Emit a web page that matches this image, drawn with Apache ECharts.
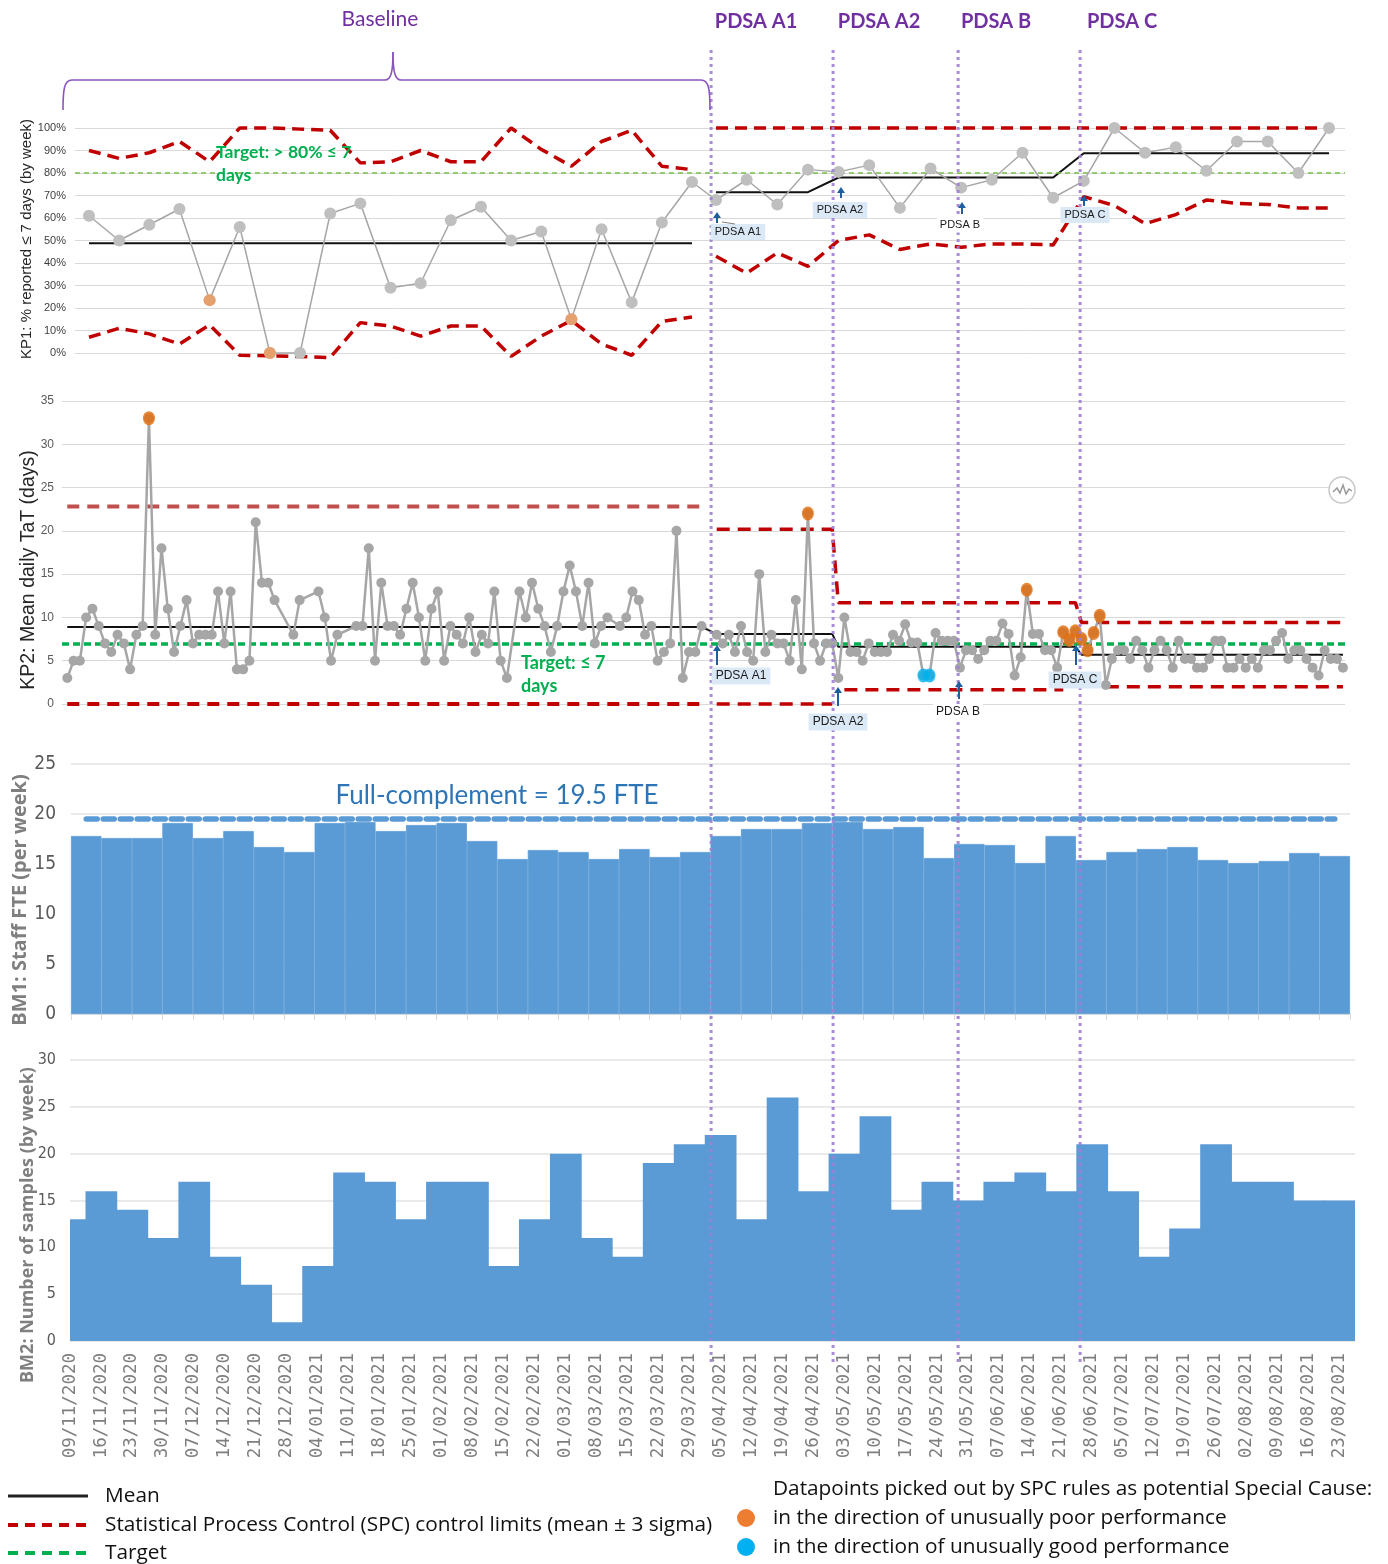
<!DOCTYPE html>
<html><head><meta charset="utf-8">
<script src="https://cdn.jsdelivr.net/npm/echarts@6/dist/echarts.min.js"></script>
<style>html,body{margin:0;padding:0;background:#fff}#c{width:1388px;height:1564px}</style>
</head><body><div id="c"></div>
<script>
// ---------------- DATA ----------------
const weekLabels = ['09/11/2020','16/11/2020','23/11/2020','30/11/2020','07/12/2020','14/12/2020','21/12/2020','28/12/2020','04/01/2021','11/01/2021','18/01/2021','25/01/2021','01/02/2021','08/02/2021','15/02/2021','22/02/2021','01/03/2021','08/03/2021','15/03/2021','22/03/2021','29/03/2021','05/04/2021','12/04/2021','19/04/2021','26/04/2021','03/05/2021','10/05/2021','17/05/2021','24/05/2021','31/05/2021','07/06/2021','14/06/2021','21/06/2021','28/06/2021','05/07/2021','12/07/2021','19/07/2021','26/07/2021','02/08/2021','09/08/2021','16/08/2021','23/08/2021'];

// KP1: % reported <= 7 days, by week (index 0..20 baseline, 21..41 after PDSA A1)
const kp1Values = [61,50,57,64,23.5,56,0,0,62,66.5,29,31,59,65,50,54,15,55,22.5,58,76,68,77,66,81.5,80.5,83.5,64.5,82,73.5,77,89,69,76.5,100,89,91.5,81,94,94,80,100];
const kp1Ucl = [90,86.5,89,94,85,100,100,99.5,99,84.5,85,90,85,85,100,90.5,83,94,99,83,81.5,100,100,100,100,100,100,100,100,100,100,100,100,100,100,100,100,100,100,100,100,100];
const kp1Lcl = [7,11,8.5,4,12.5,-1,-1.2,-1.6,-2,13.5,12,7.5,12,12,-1.5,7.5,14.5,4,-1,14,16,43,35.5,44.5,38.5,50,52.5,46,48.5,47,48.5,48.5,48,69.5,65.5,57.5,61.5,68,66.5,66,64.5,64.5];
const kp1BaselineEnd = 20;
const kp1PhaseStart = [0,21,25,33];
const kp1PhaseEnd = [20,24,32,41];
const kp1PhaseMean = [48.8,71.5,78,88.8];
const kp1Target = 80;
const kp1PoorIdx = [4,6,16];

// KP2: mean daily TaT (days), working days. Baseline period (null = no data)
const kp2Baseline = [3,5,5,10,11,9,7,6,8,7,4,8,9,33,8,18,11,6,9,12,7,8,8,8,13,7,13,4,4,5,21,14,14,12,null,null,8,12,null,null,13,10,5,8,null,null,9,9,18,5,14,9,9,8,11,14,10,5,11,13,5,9,8,7,10,6,8,7,13,5,3,null,13,10,14,11,9,6,9,13,16,13,9,14,7,9,10,null,9,10,13,12,8,9,5,6,7,20,3,6,6,9];
// post-intervention period (PDSA A1 onwards)
const kp2Post = [8,7,8,6,9,6,5,15,6,8,7,7,5,12,4,22,7,5,7,7,3,10,6,6,5,7,6,6,6,8,7.3,9.2,7.1,7.1,3.3,3.3,8.2,7.3,7.3,7.3,4.2,6.2,6.2,5.2,6.2,7.3,7.3,9.3,8.1,3.3,5.4,13.2,8.1,8.1,6.2,6.2,4.2,8.3,7.4,8.4,7.5,6.2,8.2,10.2,2.2,5.2,6.2,6.2,5.2,7.3,6.2,4.2,6.2,7.3,6.2,4.2,7.3,5.2,5.2,4.2,4.2,5.2,7.3,7.3,4.2,4.2,5.2,4.2,5.2,4.2,6.2,6.2,7.3,8.2,5.2,6.2,6.2,5.2,4.2,3.3,6.2,5.2,5.2,4.2];
const kp2BaseMean = 8.9, kp2BaseUcl = 22.8, kp2BaseLcl = 0;
const kp2PostPhaseStart = [0,20,60];
const kp2PostPhaseEnd = [19,59,103];
const kp2PostMean = [8.1,6.6,5.7];
const kp2PostUcl = [20.2,11.7,9.4];
const kp2PostLclStart = [0,21,64];
const kp2PostLclEnd = [19,57,103];
const kp2PostLcl = [0,1.66,2.0];
const kp2Target = 7;
const kp2BasePoorIdx = [13];
const kp2PostPoorIdx = [15,51,57,58,59,60,61,62,63];
const kp2PostGoodIdx = [34,35];

// BM1: staff FTE per week
const bm1Values = [17.8,17.6,17.6,19.1,17.6,18.3,16.7,16.2,19.1,19.2,18.3,18.9,19.1,17.3,15.5,16.4,16.2,15.5,16.5,15.7,16.2,17.8,18.5,18.5,19.1,19.2,18.5,18.7,15.6,17.0,16.9,15.1,17.8,15.4,16.2,16.5,16.7,15.4,15.1,15.3,16.1,15.8];
const bm1FullComplement = 19.5;

// BM2: number of samples per week
const bm2Values = [13,16,14,11,17,9,6,2,8,18,17,13,17,17,8,13,20,11,9,19,21,22,13,26,16,20,24,14,17,15,17,18,16,21,16,9,12,21,17,17,15,15];

// PDSA start positions on the KP1 (post) week axis: A1, A2, B, C
const phaseLinePos = [20.84,24.82,28.9,32.88];

// ---------------- LAYOUT ----------------
const G = [
  {left:75, top:128, width:1270, height:225},
  {left:62, top:401, width:1283, height:303},
  {left:71, top:764, width:1279, height:250},
  {left:70, top:1060, width:1285, height:281}
];
// the source is a composite of separately drawn baseline / post panels
const KP1_BASE_FIRST_PX = 89, KP1_BASE_STEP = 30.15;
const KP1_POST_FIRST_PX = 716, KP1_POST_STEP = 30.65;
const KP2_BASE_FIRST_PX = 67.3, KP2_BASE_STEP = 6.28;
const KP2_POST_FIRST_PX = 716.7, KP2_POST_STEP = 6.08;
function axisRange(grid, firstPx, step, firstIdx){
  const min = firstIdx - (firstPx - grid.left)/step;
  return {min, max: min + grid.width/step};
}
const kp1B = axisRange(G[0], KP1_BASE_FIRST_PX, KP1_BASE_STEP, 0);
const kp1P = axisRange(G[0], KP1_POST_FIRST_PX, KP1_POST_STEP, kp1BaselineEnd+1);
const kp2B = axisRange(G[1], KP2_BASE_FIRST_PX, KP2_BASE_STEP, 0);
const kp2P = axisRange(G[1], KP2_POST_FIRST_PX, KP2_POST_STEP, 0);
const BM2_MAX = 41.5;

const RED = '#c00000', ORANGE1 = '#f0985a', ORANGE2 = '#e46c0a', CYAN = '#00b0f0', BLUE = '#5b9bd5', PURPLE = '#7030a0';

function pts(arr, from, to){ const o=[]; for(let i=from;i<=to;i++){ if(arr[i]!=null) o.push([i,arr[i]]); } return o; }
function constPts(v, from, to){ const o=[]; for(let i=from;i<=to;i++) o.push([i,v]); return o; }
function phasePts(starts, ends, vals){ let o=[]; for(let p=0;p<starts.length;p++){ o=o.concat(constPts(vals[p], starts[p], ends[p])); } return o; }

function limLine(name, data, xi, yi, color, width, dash, z){
  return {name, type:'line', xAxisIndex:xi, yAxisIndex:yi, data, symbol:'none', clip:false, silent:true,
    lineStyle:{color, width, type:dash}, z:z||3};
}
const N1 = kp1Values.length - 1, BE = kp1BaselineEnd;
const series = [];
// ---- KP1 ----
series.push(limLine('kp1UclB', pts(kp1Ucl,0,BE),0,0,RED,3.5,[12,7]));
series.push(limLine('kp1UclP', pts(kp1Ucl,BE+1,N1),1,0,RED,3.5,[12,7]));
series.push(limLine('kp1LclB', pts(kp1Lcl,0,BE),0,0,RED,3.5,[12,7]));
series.push(limLine('kp1LclP', pts(kp1Lcl,BE+1,N1),1,0,RED,3.5,[12,7]));
series.push(limLine('kp1MeanB', constPts(kp1PhaseMean[0],kp1PhaseStart[0],kp1PhaseEnd[0]),0,0,'#111',2,'solid'));
series.push(limLine('kp1MeanP', phasePts(kp1PhaseStart.slice(1),kp1PhaseEnd.slice(1),kp1PhaseMean.slice(1)),1,0,'#111',2,'solid'));
const kp1PointStyle = {symbol:'circle', symbolSize:12, itemStyle:{color:'#bfbfbf'}, lineStyle:{color:'#a6a6a6', width:1.5}, z:5, clip:false};
series.push(Object.assign({name:'kp1B', type:'line', xAxisIndex:0, yAxisIndex:0, data:pts(kp1Values,0,BE),
  markLine:{silent:true, symbol:'none', label:{show:false}, lineStyle:{color:'#77c04a', width:1.5, type:[5,4]}, data:[{yAxis:kp1Target}]}}, kp1PointStyle));
series.push(Object.assign({name:'kp1P', type:'line', xAxisIndex:1, yAxisIndex:0, data:pts(kp1Values,BE+1,N1)}, kp1PointStyle));
series.push({name:'kp1PoorB', type:'scatter', xAxisIndex:0, yAxisIndex:0, data:kp1PoorIdx.filter(i=>i<=BE).map(i=>[i,kp1Values[i]]), symbolSize:12, itemStyle:{color:ORANGE1}, z:6, clip:false});
series.push({name:'kp1PoorP', type:'scatter', xAxisIndex:1, yAxisIndex:0, data:kp1PoorIdx.filter(i=>i>BE).map(i=>[i,kp1Values[i]]), symbolSize:12, itemStyle:{color:ORANGE1}, z:6, clip:false});

// ---- KP2 ----
const NB = kp2Baseline.length - 1;
series.push(limLine('kp2UclB', constPts(kp2BaseUcl,0,NB),2,1,'#c0504d',4,[12,8]));
series.push(limLine('kp2LclB', constPts(kp2BaseLcl,0,NB),2,1,RED,4,[12,8]));
series.push(limLine('kp2MeanB', constPts(kp2BaseMean,0,NB),2,1,'#111',2,'solid'));
series.push(limLine('kp2UclP', phasePts(kp2PostPhaseStart,kp2PostPhaseEnd,kp2PostUcl),3,1,RED,3.5,[13,8]));
series.push(limLine('kp2LclP', (function(){ const o=[]; for(let p=0;p<kp2PostLclStart.length;p++){ o.push(...constPts(kp2PostLcl[p],kp2PostLclStart[p],kp2PostLclEnd[p])); if(p<kp2PostLclStart.length-1) o.push([kp2PostLclEnd[p]+0.5,null]); } return o; })(),3,1,RED,3.5,[13,8]));
series.push(limLine('kp2MeanP', phasePts(kp2PostPhaseStart,kp2PostPhaseEnd,kp2PostMean),3,1,'#111',2,'solid'));
series.push({name:'kp2B', type:'line', xAxisIndex:2, yAxisIndex:1, data:pts(kp2Baseline,0,NB), symbol:'circle', symbolSize:10,
  itemStyle:{color:'#a6a6a6'}, lineStyle:{color:'#a6a6a6', width:2.5}, z:5,
  markLine:{silent:true, symbol:'none', label:{show:false}, lineStyle:{color:'#00b050', width:3.5, type:[7,4]}, data:[{yAxis:kp2Target}], z:4}});
series.push({name:'kp2P', type:'line', xAxisIndex:3, yAxisIndex:1, data:pts(kp2Post,0,kp2Post.length-1), symbol:'circle', symbolSize:10,
  itemStyle:{color:'#a6a6a6'}, lineStyle:{color:'#a6a6a6', width:2.5}, z:5});
series.push({name:'kp2PoorB', type:'scatter', xAxisIndex:2, yAxisIndex:1, data:kp2BasePoorIdx.map(i=>[i,kp2Baseline[i]]), symbolSize:[12,14], itemStyle:{color:ORANGE2}, z:6});
series.push({name:'kp2PoorP', type:'scatter', xAxisIndex:3, yAxisIndex:1, data:kp2PostPoorIdx.map(i=>[i,kp2Post[i]]), symbolSize:[12,14], itemStyle:{color:ORANGE2}, z:6});
series.push({name:'kp2GoodP', type:'scatter', xAxisIndex:3, yAxisIndex:1, data:kp2PostGoodIdx.map(i=>[i,kp2Post[i]]), symbolSize:[12,14], itemStyle:{color:CYAN}, z:6});

// ---- BM1 ----
series.push({name:'bm1', type:'bar', xAxisIndex:4, yAxisIndex:2, data:bm1Values, barCategoryGap:'0%', itemStyle:{color:BLUE, borderColor:BLUE, borderWidth:0.8}, z:2});
series.push({name:'bm1Full', type:'line', xAxisIndex:4, yAxisIndex:2, data:weekLabels.map(()=>bm1FullComplement), symbol:'none', lineStyle:{color:'#5b9bd5', width:5.5, type:[11,6], cap:'round'}, z:3, silent:true});

// ---- BM2 (adjacent week columns centred on each date tick, clipped to the plot) ----
series.push({name:'bm2', type:'custom', xAxisIndex:5, yAxisIndex:3, data:bm2Values.map((v,i)=>[i,v]), z:2,
  renderItem:(params, api)=>{
    const i = api.value(0), v = api.value(1);
    const p0 = api.coord([i-0.5, v]), p1 = api.coord([i+0.5, 0]);
    const cs = params.coordSys;
    const r = echarts.graphic.clipRectByRect({x:p0[0], y:p0[1], width:p1[0]-p0[0]+0.8, height:p1[1]-p0[1]}, {x:cs.x, y:cs.y, width:cs.width, height:cs.height});
    return r ? {type:'rect', shape:r, style:{fill:BLUE}} : null;
  }});

const hidden = {show:false};
const noAxis = {axisLine:hidden, axisTick:hidden, axisLabel:hidden, splitLine:hidden};
const ylab = (fs, fam, color, margin) => ({fontSize:fs, fontFamily:fam, color, margin});
const NARROW = '"Liberation Sans Narrow","DejaVu Sans Condensed",sans-serif';
const option = {
  animation:false,
  backgroundColor:'#ffffff',
  textStyle:{fontFamily:'Arial, "Liberation Sans", sans-serif'},
  grid:G,
  xAxis:[
    Object.assign({gridIndex:0, type:'value', min:kp1B.min, max:kp1B.max}, noAxis),
    Object.assign({gridIndex:0, type:'value', min:kp1P.min, max:kp1P.max}, noAxis),
    Object.assign({gridIndex:1, type:'value', min:kp2B.min, max:kp2B.max}, noAxis),
    Object.assign({gridIndex:1, type:'value', min:kp2P.min, max:kp2P.max}, noAxis),
    {gridIndex:2, type:'category', data:weekLabels, boundaryGap:true, axisLine:{lineStyle:{color:'#d9d9d9', width:1.5}}, axisTick:{show:true, interval:0, length:6, lineStyle:{color:'#d9d9d9'}}, axisLabel:{show:false, interval:0}},
    {gridIndex:3, type:'value', min:0, max:BM2_MAX, interval:1, axisLine:hidden, axisTick:hidden, splitLine:hidden,
      axisLabel:{rotate:90, margin:12, fontFamily:'"DejaVu Sans Mono", monospace', fontSize:17.5, color:'#7f7f7f',
        formatter:(v)=> Number.isInteger(v) && weekLabels[v] ? weekLabels[v] : ''}}
  ],
  yAxis:[
    {gridIndex:0, type:'value', min:0, max:100, interval:10, axisLine:hidden, axisTick:hidden, axisLabel:Object.assign(ylab(11,'Arial','#404040',9),{formatter:'{value}%'}), splitLine:{lineStyle:{color:'#d9d9d9'}}},
    {gridIndex:1, type:'value', min:0, max:35, interval:5, axisLine:hidden, axisTick:hidden, axisLabel:ylab(12,'Arial','#595959',8), splitLine:{lineStyle:{color:'#d9d9d9', width:1.2}}},
    {gridIndex:2, type:'value', min:0, max:25, interval:5, axisLine:hidden, axisTick:hidden, axisLabel:ylab(19,NARROW,'#595959',15), splitLine:{lineStyle:{color:'#e3e3e3', width:1.5}}},
    {gridIndex:3, type:'value', min:0, max:30, interval:5, axisLine:hidden, axisTick:hidden, axisLabel:ylab(16,NARROW,'#595959',14), splitLine:{lineStyle:{color:'#e3e3e3', width:1.5}}}
  ],
  series
};

const chart = echarts.init(document.getElementById('c'), null, {width:1388, height:1564});
chart.setOption(option);

// ---------------- ANNOTATIONS ----------------
const LATO = 'Lato, "Open Sans", sans-serif';
const OPEN = '"Open Sans", Lato, sans-serif';
function txt(x, y, text, font, fill, align, extraStyle, extra){
  return Object.assign({type:'text', x, y, z:100, silent:true, style:Object.assign({text, font, fill, textAlign:align||'left', textVerticalAlign:'middle', verticalAlign:'middle'}, extraStyle||{})}, extra||{});
}
function tag(x, y, text, fs, bg){
  return txt(x, y, text, fs+'px Arial, "Liberation Sans", sans-serif', '#1a1a1a', 'center', bg ? {backgroundColor:'#dbe8f5', padding:[3,4,2,4]} : {backgroundColor:'#ffffff', padding:[2,3]});
}
function arrow(x, yTail, yHead){
  return [
    {type:'line', z:101, silent:true, shape:{x1:x, y1:yTail, x2:x, y2:yHead+4}, style:{stroke:'#1f5f9f', lineWidth:2}},
    {type:'polygon', z:101, silent:true, shape:{points:[[x-4,yHead+6],[x+4,yHead+6],[x,yHead]]}, style:{fill:'#1f5f9f'}}
  ];
}
function seg(a, b, stroke, w, z){ return {type:'line', z:z||4, silent:true, shape:{x1:a[0],y1:a[1],x2:b[0],y2:b[1]}, style:{stroke, lineWidth:w}}; }
const g = [];
// header
g.push(txt(380, 19, 'Baseline', '21px '+LATO, PURPLE, 'center'));
[['PDSA A1',756],['PDSA A2',879],['PDSA B',996],['PDSA C',1122]].forEach(([t,x])=>g.push(txt(x, 22, t, 'bold 20px '+LATO, PURPLE, 'center')));
const BR = {stroke:'#8a55bd', lineWidth:1.6, fill:null};
g.push({type:'bezierCurve', z:100, silent:true, shape:{x1:63,y1:110,cpx1:63,cpy1:90,cpx2:64,cpy2:80,x2:72,y2:80}, style:BR});
g.push({type:'line', z:100, silent:true, shape:{x1:72,y1:80,x2:385,y2:80}, style:BR});
g.push({type:'bezierCurve', z:100, silent:true, shape:{x1:385,y1:80,cpx1:391,cpy1:80,cpx2:393,cpy2:72,x2:393,y2:52}, style:BR});
g.push({type:'bezierCurve', z:100, silent:true, shape:{x1:393,y1:52,cpx1:393,cpy1:72,cpx2:395,cpy2:80,x2:401,y2:80}, style:BR});
g.push({type:'line', z:100, silent:true, shape:{x1:401,y1:80,x2:701,y2:80}, style:BR});
g.push({type:'bezierCurve', z:100, silent:true, shape:{x1:701,y1:80,cpx1:709,cpy1:80,cpx2:710,cpy2:90,x2:710,y2:110}, style:BR});
// dotted phase lines
phaseLinePos.forEach(p=>{
  const x = chart.convertToPixel({xAxisIndex:1}, p);
  g.push({type:'line', z:90, silent:true, shape:{x1:x, y1:50, x2:x, y2:1362}, style:{stroke:'#a07fd3', lineWidth:3, lineDash:[3,4], opacity:0.9}});
});
// connectors between the baseline and post panels
g.push(seg(chart.convertToPixel({xAxisIndex:0, yAxisIndex:0}, [BE, kp1Values[BE]]), chart.convertToPixel({xAxisIndex:1, yAxisIndex:0}, [BE+1, kp1Values[BE+1]]), '#a6a6a6', 1.5));
g.push(seg(chart.convertToPixel({xAxisIndex:2, yAxisIndex:1}, [NB, kp2Baseline[NB]]), chart.convertToPixel({xAxisIndex:3, yAxisIndex:1}, [0, kp2Post[0]]), '#a6a6a6', 2.5));
g.push(seg(chart.convertToPixel({xAxisIndex:2, yAxisIndex:1}, [NB, kp2BaseMean]), chart.convertToPixel({xAxisIndex:3, yAxisIndex:1}, [0, kp2PostMean[0]]), '#111', 1.5));
// KP1 annotations
g.push(txt(216, 152, 'Target: > 80% \u2264 7', 'bold 17.5px '+LATO, '#00b050', 'left'));
g.push(txt(216, 175, 'days', 'bold 17.5px '+LATO, '#00b050', 'left'));
g.push(tag(738, 232, 'PDSA A1', 11, true)); g.push(...arrow(717, 223, 212));
g.push(seg([722,222],[735,224],'#808080',1,100));
g.push(tag(840, 210, 'PDSA A2', 11, true)); g.push(...arrow(841, 198, 187));
g.push(tag(960, 225, 'PDSA B', 11, false)); g.push(...arrow(962, 214, 202));
g.push(tag(1085, 215, 'PDSA C', 11, true)); g.push(...arrow(1084, 206, 195));
// KP2 annotations
g.push(txt(521, 663, 'Target: \u2264 7', 'bold 18px '+LATO, '#00b050', 'left'));
g.push(txt(521, 686, 'days', 'bold 18px '+LATO, '#00b050', 'left'));
g.push(tag(741, 676, 'PDSA A1', 12, true)); g.push(...arrow(717, 665, 645));
g.push(tag(838, 722, 'PDSA A2', 12, true)); g.push(...arrow(838, 706, 687));
g.push(tag(958, 712, 'PDSA B', 12, false)); g.push(...arrow(959, 699, 681));
g.push(tag(1075, 680, 'PDSA C', 12, true)); g.push(...arrow(1076, 665, 645));
// chart icon
g.push({type:'circle', z:100, silent:true, shape:{cx:1342, cy:490, r:13}, style:{stroke:'#c8c8c8', lineWidth:1.5, fill:'#fff'}});
g.push({type:'polyline', z:101, silent:true, shape:{points:[[1333,492],[1337,488],[1340,493],[1343,485],[1346,494],[1349,489],[1352,491]]}, style:{stroke:'#9a9a9a', lineWidth:1.5, fill:null}});
// BM1 label
g.push(txt(497, 796, 'Full-complement = 19.5 FTE', '26px '+LATO, '#2e75b6', 'center'));
// axis names
g.push(txt(27, 239, 'KP1: % reported \u2264 7 days (by week)', '15px Arial, "Liberation Sans", sans-serif', '#262626', 'center', null, {rotation:Math.PI/2}));
g.push(txt(29, 570, 'KP2: Mean daily TaT (days)', '19.5px Arial, "Liberation Sans", sans-serif', '#262626', 'center', null, {rotation:Math.PI/2}));
g.push(txt(20, 900, 'BM1: Staff FTE (per week)', 'bold 20px "Open Sans", Arial, sans-serif', '#7f7f7f', 'center', null, {rotation:Math.PI/2}));
g.push(txt(28, 1225, 'BM2: Number of samples (by week)', 'bold 18px "Open Sans", Arial, sans-serif', '#7f7f7f', 'center', null, {rotation:Math.PI/2}));
// legend
g.push({type:'line', z:100, silent:true, shape:{x1:8,y1:1496,x2:88,y2:1496}, style:{stroke:'#222', lineWidth:3}});
g.push({type:'line', z:100, silent:true, shape:{x1:8,y1:1525,x2:88,y2:1525}, style:{stroke:RED, lineWidth:4, lineDash:[10,7]}});
g.push({type:'line', z:100, silent:true, shape:{x1:8,y1:1553,x2:88,y2:1553}, style:{stroke:'#00b050', lineWidth:4, lineDash:[10,7]}});
const LEG = '20.8px '+OPEN;
g.push(txt(105, 1496, 'Mean', LEG, '#111', 'left'));
g.push(txt(105, 1525, 'Statistical Process Control (SPC) control limits (mean \u00b1 3 sigma)', LEG, '#111', 'left'));
g.push(txt(105, 1553, 'Target', LEG, '#111', 'left'));
g.push(txt(773, 1489, 'Datapoints picked out by SPC rules as potential Special Cause:', LEG, '#111', 'left'));
g.push({type:'circle', z:100, silent:true, shape:{cx:746, cy:1518, r:9}, style:{fill:'#ed7d31'}});
g.push({type:'circle', z:100, silent:true, shape:{cx:746, cy:1547, r:9}, style:{fill:CYAN}});
g.push(txt(773, 1518, 'in the direction of unusually poor performance', LEG, '#111', 'left'));
g.push(txt(773, 1547, 'in the direction of unusually good performance', LEG, '#111', 'left'));

chart.setOption({graphic:{elements:g}});
</script>
</body></html>
